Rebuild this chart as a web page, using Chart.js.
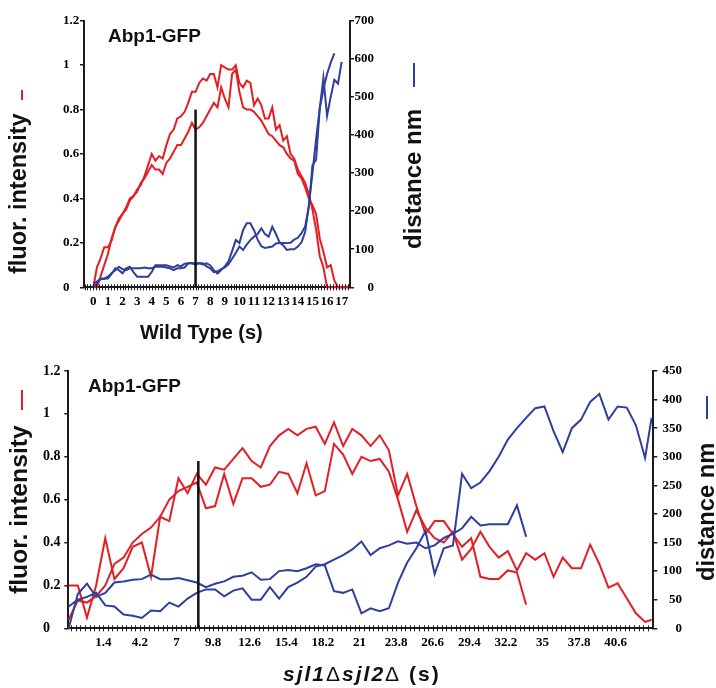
<!DOCTYPE html>
<html><head><meta charset="utf-8">
<script src="https://cdn.jsdelivr.net/npm/chart.js@4.4.1/dist/chart.umd.min.js"></script>
<style>
html,body{margin:0;padding:0;background:#fff;}
#wrap{position:relative;width:716px;height:688px;overflow:hidden;background:#fff;}
canvas{position:absolute;left:0;}
.t{position:absolute;font-family:"Liberation Sans",Arial,Helvetica,sans-serif;font-weight:bold;line-height:1;white-space:nowrap;color:#111;}
.rot{transform-origin:0 0;transform:rotate(-90deg);}
.gap{display:inline-block;height:1px;}
.dash{display:inline-block;height:2px;}
.n{font-weight:normal;font-style:normal;}
</style></head><body>
<div id="wrap">
<canvas id="c1" width="716" height="350" style="top:0;width:716px;height:350px"></canvas>
<canvas id="c2" width="716" height="338" style="top:350px;width:716px;height:338px"></canvas>
<div class="t" style="left:108px;top:25.6px;font-size:19px">Abp1-GFP</div>
<div class="t" style="left:88px;top:375.6px;font-size:19px">Abp1-GFP</div>
<div class="t rot" style="left:7.3px;top:274px;font-size:23.5px">fluor. intensity<span class="gap" style="width:13px"></span><span class="dash" style="width:10px;background:#e31e24;vertical-align:2.7px"></span></div>
<div class="t rot" style="left:401.4px;top:249px;font-size:24px">distance nm<span class="gap" style="width:22px"></span><span class="dash" style="width:24px;background:#2e3f9c;vertical-align:6.4px"></span></div>
<div class="t rot" style="left:7.2px;top:594px;font-size:24.7px">fluor. intensity<span class="gap" style="width:15px"></span><span class="dash" style="width:20px;background:#e31e24;vertical-align:3.8px"></span></div>
<div class="t rot" style="left:695.2px;top:581px;font-size:23.7px">distance nm<span class="gap" style="width:23.7px"></span><span class="dash" style="width:23px;background:#2e3f9c;vertical-align:6px"></span></div>
<div class="t" style="left:140px;top:322.1px;font-size:20px">Wild Type (s)</div>
<div class="t" style="left:283px;top:663px;font-size:21px;letter-spacing:2px"><i>sjl1</i><span class="n">Δ</span><i>sjl2</i><span class="n">Δ</span> (s)</div>
</div>
<script>
// ---------- Top chart (Wild Type) ----------
const topTime = [0,0.25,0.5,0.75,1,1.25,1.5,1.75,2,2.25,2.5,2.75,3,3.25,3.5,3.75,4,4.25,4.5,4.75,5,5.25,5.5,5.75,6,6.25,6.5,6.75,7,7.25,7.5,7.75,8,8.25,8.5,8.75,9,9.25,9.5,9.75,10,10.25,10.5,10.75,11,11.25,11.5,11.75,12,12.25,12.5,12.75,13,13.25,13.5,13.75,14,14.25,14.5,14.75,15,15.25,15.5,15.75,16,16.25,16.5,16.75,17,17.25,17.5];
const topRedA = [0,0.09,0.13,0.18,0.18,0.21,0.27,0.31,0.33,0.36,0.40,0.41,0.44,0.46,0.50,0.55,0.60,0.57,0.59,0.58,0.64,0.69,0.71,0.76,0.77,0.79,0.83,0.88,0.88,0.92,0.94,0.93,0.96,0.96,0.90,1.0,0.99,0.98,0.98,1.0,0.92,0.90,0.93,0.92,0.82,0.85,0.82,0.76,0.76,0.81,0.71,0.73,0.66,0.68,0.60,0.58,0.53,0.50,0.47,0.42,0.35,0.26,0.14,0.09,0,0,0,0,0,0,0];
const topRedB = [0,0,0.05,0.10,0.15,0.22,0.27,0.30,0.33,0.35,0.39,0.41,0.43,0.47,0.49,0.52,0.55,0.53,0.53,0.51,0.56,0.58,0.61,0.64,0.64,0.67,0.70,0.74,0.71,0.72,0.74,0.77,0.80,0.83,0.81,0.90,0.85,0.81,0.96,0.98,0.88,0.81,0.80,0.80,0.79,0.77,0.75,0.72,0.69,0.68,0.66,0.64,0.63,0.60,0.58,0.57,0.51,0.49,0.45,0.40,0.37,0.33,0.22,0.16,0.09,0.10,0.03,0,0,0,0];
const topBlueC = [10,15,23,23,23,35,50,45,37,50,54,40,28,28,28,28,40,58,58,58,58,55,52,58,55,62,63,63,63,63,60,63,58,45,36,45,55,68,95,124,116,150,168,168,150,125,108,103,105,107,115,116,116,116,117,125,130,142,160,210,320,335,470,550,450,500,545,535,592];
const topBlueD = [0,10,22,22,28,37,45,54,48,45,50,50,50,50,52,50,50,54,54,54,52,50,45,50,50,52,63,63,60,63,63,55,50,40,42,48,52,60,75,90,107,98,112,124,133,140,155,140,133,159,140,118,110,98,100,100,107,118,145,215,300,390,470,520,560,590,614];
const topMarkerT = 7, topMarkerTop = 0.8;
const topXTicks = [0,1,2,3,4,5,6,7,8,9,10,11,12,13,14,15,16,17];
const topYTicks = [0,0.2,0.4,0.6,0.8,1,1.2];
const topY2Ticks = [0,100,200,300,400,500,600,700];

// ---------- Bottom chart (sjl1Δsjl2Δ) ----------
const botTime = [-1.25,-0.55,0.15,0.85,1.55,2.25,2.95,3.65,4.35,5.05,5.75,6.45,7.15,7.85,8.55,9.25,9.95,10.65,11.35,12.05,12.75,13.45,14.15,14.85,15.55,16.25,16.95,17.65,18.35,19.05,19.75,20.45,21.15,21.85,22.55,23.25,23.95,24.65,25.35,26.05,26.75,27.45,28.15,28.85,29.55,30.25,30.95,31.65,32.35,33.05,33.75,34.45,35.15,35.85,36.55,37.25,37.95,38.65,39.35,40.05,40.75,41.45,42.15,42.85,43.35];
const botRedS = [0.20,0.20,0.05,0.20,0.42,0.23,0.28,0.38,0.40,0.24,0.52,0.50,0.70,0.63,0.72,0.67,0.75,0.74,0.79,0.84,0.78,0.75,0.85,0.90,0.93,0.90,0.93,0.94,0.86,0.96,0.85,0.93,0.90,0.85,0.90,0.83,0.62,0.72,0.57,0.44,0.50,0.50,0.44,0.38,0.42,0.24,0.23,0.23,0.27,0.26,0.11];
const botRedL = [0.04,0.13,0.12,0.15,0.20,0.30,0.33,0.40,0.44,0.47,0.52,0.60,0.64,0.66,0.68,0.56,0.57,0.72,0.58,0.70,0.70,0.66,0.67,0.73,0.72,0.63,0.77,0.62,0.64,0.86,0.81,0.72,0.80,0.78,0.79,0.73,0.60,0.45,0.55,0.47,0.42,0.40,0.45,0.32,0.37,0.45,0.38,0.33,0.36,0.27,0.35,0.32,0.35,0.24,0.33,0.28,0.28,0.39,0.30,0.19,0.21,0.14,0.07,0.03,0.04];
const botBlueL = [0,60,78,55,62,80,82,85,86,94,86,86,88,84,80,72,78,82,90,92,98,85,86,100,102,100,105,112,110,65,62,68,26,35,30,35,80,115,140,170,95,140,145,270,245,255,275,300,330,350,368,385,388,345,308,350,365,396,410,365,388,386,355,298,368];
const botBlueS = [38,50,55,62,40,38,24,22,18,31,30,45,38,52,62,68,68,56,66,70,50,50,72,52,72,80,90,108,112,120,128,138,152,128,140,145,152,148,150,140,145,158,165,175,195,180,182,182,182,215,160];
const botMarkerT = 8.67, botMarkerTop = 0.78;
const botXTicks = [1.4,4.2,7,9.8,12.6,15.4,18.2,21,23.8,26.6,29.4,32.2,35,37.8,40.6];
const botYTicks = [0,0.2,0.4,0.6,0.8,1,1.2];
const botY2Ticks = [0,50,100,150,200,250,300,350,400,450];

// ---------- styling ----------
const RED = '#e31e24', BLUE = '#2e3f9c', AX = '#1c1c1c';
const serif = "'Liberation Serif','Times New Roman',serif";

const minorTicks = {
  id: 'minorTicks',
  afterDatasetsDraw(chart, args, o) {
    const xs = chart.scales.x, ctx = chart.ctx, y = xs.top;
    ctx.save(); ctx.strokeStyle = AX; ctx.lineWidth = 1; ctx.beginPath();
    for (let i = 0; i < o.count; i++) {
      const px = Math.round(xs.getPixelForValue(o.start + i * o.step)) + 0.5;
      ctx.moveTo(px, y - 3); ctx.lineTo(px, y + 3);
    }
    ctx.stroke(); ctx.restore();
  }
};

function series(times, vals, color, axis) {
  return { data: vals.map((v, i) => ({ x: times[i], y: v })), borderColor: color, borderWidth: 2,
    pointRadius: 0, tension: 0, yAxisID: axis, clip: false, fill: false };
}
function marker(t, top) {
  return { data: [{ x: t, y: 0 }, { x: t, y: top }], borderColor: '#111', borderWidth: 2.5,
    pointRadius: 0, yAxisID: 'y', clip: false, fill: false };
}
const fmt = v => String(Math.round(v * 10) / 10);

function build(id, cfg) {
  return new Chart(document.getElementById(id), {
    type: 'line',
    data: { datasets: cfg.datasets },
    options: {
      responsive: false, animation: false, devicePixelRatio: 1,
      layout: { padding: cfg.padding },
      plugins: { legend: { display: false }, tooltip: { enabled: false }, minorTicks: cfg.minor },
      scales: {
        x: { type: 'linear', bounds: 'data', min: cfg.xmin, max: cfg.xmax,
          afterBuildTicks: s => { s.ticks = cfg.xticks.map(v => ({ value: v })); },
          afterFit: s => { s.height = 30; },
          grid: { display: false, drawTicks: false }, border: { display: true, color: AX, width: 2 },
          ticks: { autoSkip: false, maxRotation: 0, minRotation: 0, padding: cfg.xpad, color: '#000',
            font: { family: serif, weight: 'bold', size: 13 }, callback: v => fmt(v) } },
        y: { position: 'left', min: 0, max: 1.2,
          afterBuildTicks: s => { s.ticks = cfg.yticks.map(v => ({ value: v })); },
          afterFit: s => { s.width = cfg.yw; },
          grid: { drawOnChartArea: false, drawTicks: true, tickLength: 4, color: AX, lineWidth: 1.5 },
          border: { display: true, color: AX, width: 2 },
          ticks: { crossAlign: 'far', color: '#000', font: { family: serif, weight: 'bold', size: cfg.yfont }, callback: v => fmt(v) } },
        y2: { position: 'right', min: 0, max: cfg.y2max,
          afterBuildTicks: s => { s.ticks = cfg.y2ticks.map(v => ({ value: v })); },
          afterFit: s => { s.width = cfg.y2w; },
          grid: { drawOnChartArea: false, drawTicks: true, tickLength: 4, color: AX, lineWidth: 1.5 },
          border: { display: true, color: AX, width: 2 },
          ticks: { crossAlign: 'far', color: '#000', font: { family: serif, weight: 'bold', size: 13 }, callback: v => String(v) } }
      }
    },
    plugins: [minorTicks]
  });
}

build('c1', {
  datasets: [
    marker(topMarkerT, topMarkerTop),
    series(topTime, topBlueC, BLUE, 'y2'),
    series(topTime, topBlueD, BLUE, 'y2'),
    series(topTime, topRedA, RED, 'y'),
    series(topTime, topRedB, RED, 'y')
  ],
  padding: { left: 63, right: 342, top: 20.7, bottom: 32.7 },
  xmin: -0.637, xmax: 17.57, xticks: topXTicks, xpad: 6.4,
  yticks: topYTicks, yw: 21, yfont: 13,
  y2max: 700, y2ticks: topY2Ticks, y2w: 24,
  minor: { start: -0.6, step: 0.2, count: 91 }
});

build('c2', {
  datasets: [
    marker(botMarkerT, botMarkerTop),
    series(botTime, botBlueL, BLUE, 'y2'),
    series(botTime, botBlueS, BLUE, 'y2'),
    series(botTime, botRedL, RED, 'y'),
    series(botTime, botRedS, RED, 'y')
  ],
  padding: { left: 43, right: 34, top: 21, bottom: 29.7 },
  xmin: -1.278, xmax: 43.48, xticks: botXTicks, xpad: 6.9,
  yticks: botYTicks, yw: 25.3, yfont: 14,
  y2max: 450, y2ticks: botY2Ticks, y2w: 28.7,
  minor: { start: -1.05, step: 0.35, count: 127 }
});
</script>
</body></html>
